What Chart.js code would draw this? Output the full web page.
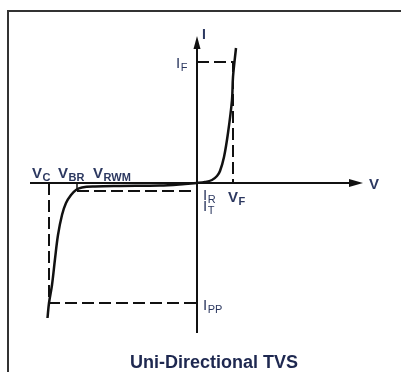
<!DOCTYPE html>
<html>
<head>
<meta charset="utf-8">
<script src="https://cdn.jsdelivr.net/npm/chart.js@4/dist/chart.umd.min.js"></script>
<style>
  html, body { margin: 0; padding: 0; background: #fff; }
  #wrap { width: 401px; height: 372px; position: relative; }
</style>
</head>
<body>
<div id="wrap"><canvas id="tvsChart"></canvas></div>
<script>
// I-V curve of a uni-directional TVS diode (arbitrary units)
const curveV = [-14.95, -14.8, -14.5, -14.2, -13.9, -13.5, -13.1, -12.6, -12.1, -11.5, -10.2, -7.7, -3.7, -1.2, 0, 0.8, 1.5, 2.0, 2.3, 2.7, 3.1, 3.5, 3.6, 3.9];
const curveI = [-13.5, -12.0, -10.2, -7.6, -5.2, -3.2, -2.0, -1.2, -0.7, -0.45, -0.35, -0.3, -0.25, -0.1, 0, 0.1, 0.3, 0.7, 1.2, 2.6, 5.0, 8.3, 10.6, 13.5];

// characteristic points
const vF = 3.6, iF = 12.1;
const vC = -14.8, iPP = -12.0;
const vBR = -12.0, iT = -0.8;

// axis extents
const axisV = [-16.7, 16.2];
const axisI = [-15.0, 14.2];

const ink = "#111";
const labelColor = "#2c3860";
const fontFamily = "'Liberation Sans', Arial, sans-serif";

const pts = (xs, ys) => xs.map((x, i) => ({ x, y: ys[i] }));

const dashedSet = (xs, ys) => ({
    data: pts(xs, ys),
    borderColor: ink,
    borderWidth: 2,
    borderDash: [12, 5],
    pointRadius: 0,
    showLine: true,
    tension: 0
});

const lineSet = (xs, ys, width) => ({
    data: pts(xs, ys),
    borderColor: ink,
    borderWidth: width,
    pointRadius: 0,
    showLine: true,
    tension: 0
});

function drawSub(ctx, x, y, main, sub, size, weight, align) {
    const subSize = Math.round(size * 0.75);
    ctx.font = `${weight} ${size}px ${fontFamily}`;
    const wMain = ctx.measureText(main).width;
    ctx.font = `${weight} ${subSize}px ${fontFamily}`;
    const wSub = ctx.measureText(sub).width;
    let left = x;
    if (align === "right") left = x - wMain - wSub;
    ctx.textAlign = "left";
    ctx.font = `${weight} ${size}px ${fontFamily}`;
    ctx.fillText(main, left, y);
    ctx.font = `${weight} ${subSize}px ${fontFamily}`;
    ctx.fillText(sub, left + wMain + 0.5, y + 3);
}

const decorPlugin = {
    id: "decor",
    beforeDraw(chart) {
        const { ctx, width, height } = chart;
        ctx.save();
        ctx.fillStyle = "#fff";
        ctx.fillRect(0, 0, width, height);
        ctx.strokeStyle = "#333";
        ctx.lineWidth = 2;
        ctx.strokeRect(8, 11, width + 10, height + 10);
        ctx.restore();
    },
    afterDatasetsDraw(chart) {
        const { ctx, scales: { x, y } } = chart;
        const x0 = x.getPixelForValue(0);
        const y0 = y.getPixelForValue(0);
        ctx.save();
        ctx.fillStyle = ink;

        // arrowheads
        const xt = x.getPixelForValue(axisV[1]);
        ctx.beginPath();
        ctx.moveTo(xt + 4, y0);
        ctx.lineTo(xt - 10, y0 - 4);
        ctx.lineTo(xt - 10, y0 + 4);
        ctx.closePath();
        ctx.fill();
        const yt = y.getPixelForValue(axisI[1]);
        ctx.beginPath();
        ctx.moveTo(x0, yt - 5);
        ctx.lineTo(x0 - 3.5, yt + 8);
        ctx.lineTo(x0 + 3.5, yt + 8);
        ctx.closePath();
        ctx.fill();

        // axis names
        ctx.fillStyle = labelColor;
        ctx.textAlign = "left";
        ctx.font = `bold 15px ${fontFamily}`;
        ctx.fillText("V", xt + 10, y0 + 6);
        ctx.font = `bold 14px ${fontFamily}`;
        ctx.fillText("I", x0 + 5, yt - 2);

        // characteristic labels
        const vCx = x.getPixelForValue(vC);
        const vBRx = x.getPixelForValue(vBR);
        drawSub(ctx, vCx - 17, y0 - 5, "V", "C", 15, "bold");
        drawSub(ctx, vBRx - 19, y0 - 5, "V", "BR", 15, "bold");
        drawSub(ctx, vBRx + 16, y0 - 5, "V", "RWM", 15, "bold");
        drawSub(ctx, x.getPixelForValue(vF) - 5, y0 + 19, "V", "F", 15, "bold");
        drawSub(ctx, x0 - 10, y.getPixelForValue(iF) + 6, "I", "F", 15, "normal", "right");
        drawSub(ctx, x0 + 6, y.getPixelForValue(iPP) + 7, "I", "PP", 15, "normal");
        drawSub(ctx, x0 + 6, y.getPixelForValue(iT) + 9, "I", "R", 15, "normal");
        drawSub(ctx, x0 + 6, y.getPixelForValue(iT) + 20, "I", "T", 15, "normal");

        // caption
        ctx.fillStyle = "#1e2850";
        ctx.textAlign = "center";
        ctx.font = `bold 18px ${fontFamily}`;
        ctx.fillText("Uni-Directional TVS", 214, 368);
        ctx.restore();
    }
};

new Chart(document.getElementById("tvsChart"), {
    type: "scatter",
    data: {
        datasets: [
            lineSet(axisV, [0, 0], 2),
            lineSet([0, 0], axisI, 2),
            dashedSet([0, vF, vF], [iF, iF, 0]),
            dashedSet([vC, vC, 0], [0, iPP, iPP]),
            lineSet([vBR, vBR], [0, iT], 1.5),
            dashedSet([vBR, 0], [iT, iT]),
            {
                data: pts(curveV, curveI),
                borderColor: ink,
                borderWidth: 2.5,
                pointRadius: 0,
                showLine: true,
                tension: 0.35
            }
        ]
    },
    options: {
        responsive: true,
        maintainAspectRatio: false,
        animation: false,
        layout: { padding: 0 },
        scales: {
            x: { type: "linear", display: false, min: -19.7, max: 20.4 },
            y: { type: "linear", display: false, min: -18.9, max: 18.3 }
        },
        plugins: {
            legend: { display: false },
            tooltip: { enabled: false }
        }
    },
    plugins: [decorPlugin]
});
</script>
</body>
</html>
